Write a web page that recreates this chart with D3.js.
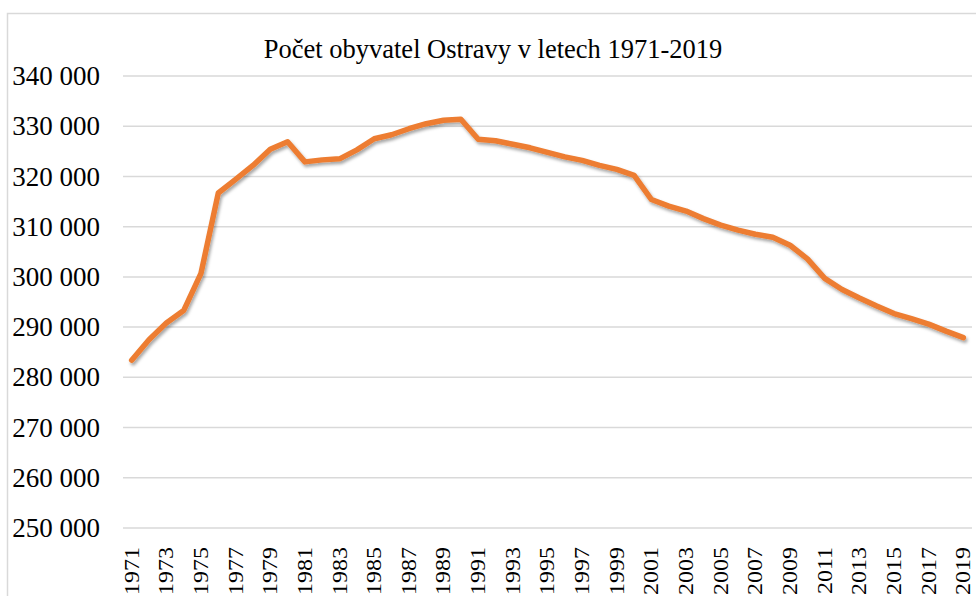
<!DOCTYPE html>
<html>
<head>
<meta charset="utf-8">
<script src="https://cdn.jsdelivr.net/npm/d3@7"></script>
<style>
  html, body { margin: 0; padding: 0; background: #fff; }
  svg { display: block; }
</style>
</head>
<body>
<div id="chart"></div>
<script>
// years 1971-2019
const years = d3.range(1971, 2020);
// population of Ostrava
const population = [
  283400, 287500, 290800, 293300, 300700, 316700, 319400, 322200, 325400, 326900,
  322900, 323300, 323500, 325300, 327500, 328300, 329500, 330500, 331200, 331400,
  327400, 327100, 326400, 325700, 324800, 323900, 323200, 322200, 321400, 320200,
  315400, 314100, 313100, 311600, 310300, 309300, 308500, 307900, 306300, 303600,
  299700, 297500, 295800, 294200, 292700, 291700, 290600, 289200, 287900
];
const yTicks = [250000, 260000, 270000, 280000, 290000, 300000, 310000, 320000, 330000, 340000];
const title = 'Počet obyvatel Ostravy v letech 1971-2019';

const width = 976, height = 596;
const plot = { left: 123, right: 972, top: 76, bottom: 528 };
const serif = '"Liberation Serif", "Times New Roman", serif';

const svg = d3.select('#chart').append('svg')
  .attr('width', width)
  .attr('height', height)
  .style('font-family', serif);

// chart area border (cut by the picture on the right and bottom)
svg.append('rect')
  .attr('x', 7.5).attr('y', 13.5)
  .attr('width', width + 20).attr('height', height + 20)
  .attr('fill', 'none')
  .attr('stroke', '#d9d9d9')
  .attr('stroke-width', 1.5);

const x = d3.scaleBand().domain(years).range([plot.left, plot.right]);
const y = d3.scaleLinear().domain([250000, 340000]).range([plot.bottom, plot.top]);

const fmt = v => d3.format(',')(v).replace(/,/g, ' ');

// gridlines
svg.append('g').selectAll('line').data(yTicks).join('line')
  .attr('x1', plot.left).attr('x2', plot.right)
  .attr('y1', d => y(d)).attr('y2', d => y(d))
  .attr('stroke', '#d9d9d9')
  .attr('stroke-width', 1.5);

// y axis labels
const yAxis = svg.append('g')
  .attr('transform', `translate(${plot.left},0)`)
  .call(d3.axisLeft(y).tickValues(yTicks).tickFormat(fmt).tickSize(0).tickPadding(23));
yAxis.select('.domain').remove();
yAxis.selectAll('text')
  .attr('fill', '#000')
  .style('font-size', '27px')
  .style('font-family', serif);

// x axis labels, every second year
const xAxis = svg.append('g')
  .attr('transform', `translate(0,${plot.bottom})`)
  .call(d3.axisBottom(x).tickValues(years.filter((d, i) => i % 2 === 0)).tickSize(0));
xAxis.select('.domain').remove();
xAxis.selectAll('text')
  .attr('fill', '#000')
  .attr('transform', 'rotate(-90) scale(1,0.85)')
  .attr('text-anchor', 'end')
  .attr('x', -19)
  .attr('y', 0)
  .attr('dy', '0.34em')
  .style('font-size', '24px')
  .style('font-family', serif);

// shadow under the line
const defs = svg.append('defs');
const filter = defs.append('filter').attr('id', 'shadow')
  .attr('x', '-5%').attr('y', '-5%').attr('width', '110%').attr('height', '120%');
filter.append('feDropShadow')
  .attr('dx', 1.5).attr('dy', 2.5)
  .attr('stdDeviation', 1.5)
  .attr('flood-color', '#000')
  .attr('flood-opacity', 0.35);

const line = d3.line()
  .x((d, i) => x(years[i]) + x.bandwidth() / 2)
  .y(d => y(d));

svg.append('path')
  .datum(population)
  .attr('d', line)
  .attr('fill', 'none')
  .attr('stroke', '#ED7D31')
  .attr('stroke-width', 5.5)
  .attr('stroke-linejoin', 'round')
  .attr('stroke-linecap', 'round')
  .attr('filter', 'url(#shadow)');

// title
svg.append('text')
  .attr('x', 493)
  .attr('y', 58)
  .attr('text-anchor', 'middle')
  .style('font-size', '26.5px')
  .text(title);
</script>
</body>
</html>
